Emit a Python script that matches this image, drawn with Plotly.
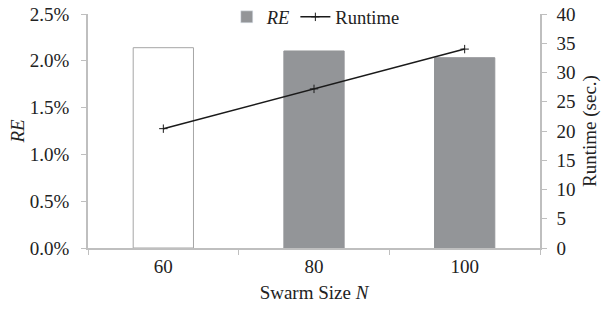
import plotly.graph_objects as go

categories = ["60", "80", "100"]
re_values = [0.0214, 0.02105, 0.02033]
runtime_values = [20.4, 27.2, 34.0]

bar_colors = ["#ffffff", "#939598", "#939598"]
bar_lines = ["#a6a6a6", "#939598", "#939598"]

font_family = "Liberation Serif, Times New Roman, serif"
axis_color = "#bfbfbf"
text_color = "#222222"
fs = 19

fig = go.Figure()
fig.add_trace(go.Bar(
    x=categories, y=re_values, name="<i>RE</i>",
    marker=dict(color=bar_colors, line=dict(color=bar_lines, width=1)),
    width=0.4, yaxis="y", showlegend=False,
))
# legend entry for the bar series (gray swatch)
fig.add_trace(go.Bar(
    x=[None], y=[None], name="<i>RE</i>",
    marker=dict(color="#939598"), yaxis="y", showlegend=True,
))
fig.add_trace(go.Scatter(
    x=categories, y=runtime_values, name="Runtime", mode="lines+markers",
    line=dict(color="#1a1a1a", width=1.5),
    marker=dict(symbol="cross-thin", size=6, line=dict(color="#1a1a1a", width=1)),
    yaxis="y2",
))

fig.update_layout(
    width=601, height=309,
    margin=dict(l=88, r=61, t=14, b=61, pad=0, autoexpand=False),
    paper_bgcolor="white", plot_bgcolor="white",
    font=dict(family=font_family, size=fs, color=text_color),
    showlegend=True,
    legend=dict(orientation="h", x=0.307, xanchor="left", y=1.067, yanchor="top",
                bgcolor="rgba(0,0,0,0)", font=dict(size=18.5), itemwidth=30,
                tracegroupgap=0),
    barmode="overlay",
    xaxis=dict(
        type="category", showline=True, linecolor=axis_color, linewidth=1.5,
        ticks="outside", tickson="boundaries", ticklen=5, tickcolor=axis_color,
        showgrid=False, zeroline=False, automargin=False,
        title=dict(text="Swarm Size <i>N</i>", font=dict(size=fs), standoff=10),
    ),
    yaxis=dict(
        range=[0, 0.025], dtick=0.005, tickformat=".1%",
        showline=True, linecolor=axis_color, linewidth=1.5,
        ticks="outside", ticklen=5, tickcolor=axis_color, ticklabelstandoff=8,
        showgrid=False, zeroline=False, automargin=False,
        title=dict(text="<i>RE</i>", font=dict(size=fs), standoff=0),
    ),
    yaxis2=dict(
        range=[0, 40], dtick=5, overlaying="y", side="right",
        showline=True, linecolor=axis_color, linewidth=1.5,
        ticks="outside", ticklen=5, tickcolor=axis_color, ticklabelstandoff=6,
        showgrid=False, zeroline=False, automargin=False,
        title=dict(text="Runtime (sec.)", font=dict(size=fs), standoff=8),
    ),
)

fig.write_html("out.html", config={"displayModeBar": False},
               post_script="document.body.style.margin='0';")
